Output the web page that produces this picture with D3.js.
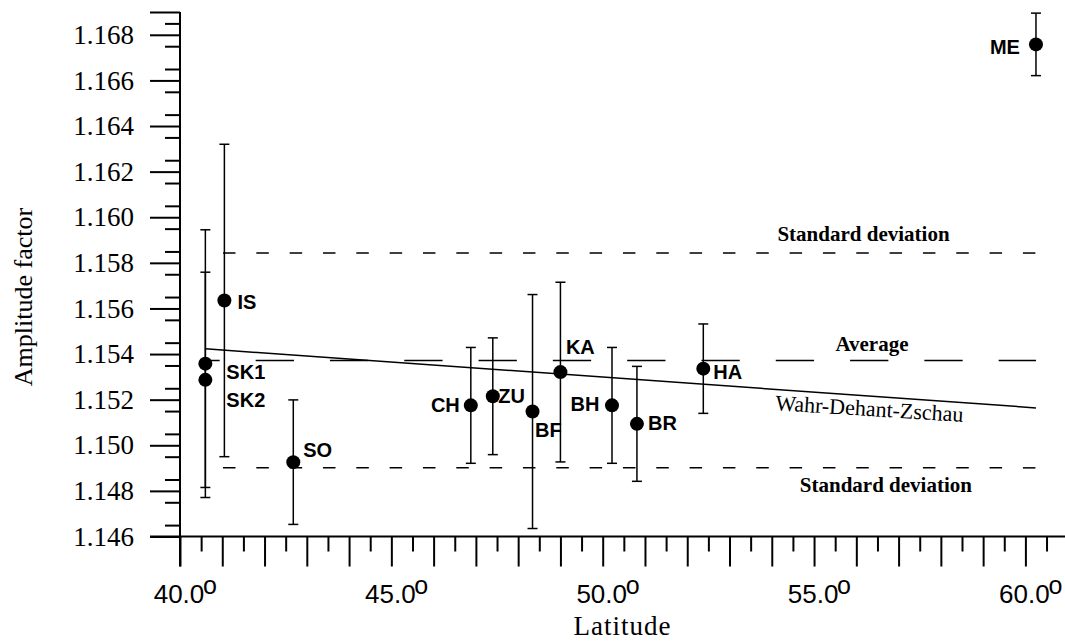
<!DOCTYPE html>
<html>
<head>
<meta charset="utf-8">
<script src="https://cdn.jsdelivr.net/npm/d3@7"></script>
<style>
	body { margin: 0; background: #fff; }
	svg { display: block; }
</style>
</head>
<body>
<div id="chart"></div>
<script>
// Stations (latitude in degrees, amplitude factor and its error)
const stations = ["SK1", "SK2", "IS", "SO", "CH", "ZU", "BF", "KA", "BH", "BR", "HA", "ME"];
const latitudes = [40.6, 40.6, 41.05, 42.68, 46.88, 47.40, 48.34, 49.0, 50.22, 50.81, 52.38, 60.25];
const amplitudes = [1.15358, 1.15287, 1.15635, 1.14926, 1.15175, 1.15215, 1.15148, 1.15321, 1.15175, 1.15094, 1.15336, 1.16758];
const errors = [0.00587, 0.00472, 0.00685, 0.00273, 0.00254, 0.00256, 0.00513, 0.00394, 0.00254, 0.00252, 0.00196, 0.00137];

// Wahr-Dehant-Zschau model
const wdzLat = [40.6, 60.25];
const wdzAmp = [1.15423, 1.15164];

// average and standard deviation
const refLat = [40.6, 60.25];
const averageAmp = 1.15372;
const stdDev = 0.00471;

// axes
const yTicks = [1.146, 1.148, 1.150, 1.152, 1.154, 1.156, 1.158, 1.160, 1.162, 1.164, 1.166, 1.168];
const xLabelTicks = [40, 45, 50, 55, 60];
const xTickLabels = ["40.0", "45.0", "50.0", "55.0", "60.0"];

const W = 1065, H = 641;
const serif = "'Liberation Serif', 'Times New Roman', serif";
const sans = "'Liberation Sans', Arial, sans-serif";

const svg = d3.select("#chart")
	.append("svg")
	.attr("width", W)
	.attr("height", H);

const x = d3.scaleLinear().domain([40, 60]).range([180, 1025.4]);
const y = d3.scaleLinear().domain([1.146, 1.168]).range([536.5, 34.8]);

const xEnd = W;           // x axis runs to the right edge
const yTop = y(1.169);    // y axis runs a bit above the last label

// Y axis: major ticks with labels
const yMajor = svg.append("g")
	.attr("transform", `translate(${x(40)},0)`)
	.call(d3.axisLeft(y).tickValues(yTicks).tickSize(30).tickPadding(16)
		.tickFormat(d3.format(".3f")));
yMajor.select(".domain").remove();
yMajor.selectAll("line").attr("stroke", "#000").attr("stroke-width", 2);
yMajor.selectAll("text")
	.style("font-family", serif)
	.style("font-size", "27px")
	.attr("fill", "#000");

// end tick at the top
const yTopTick = svg.append("g")
	.attr("transform", `translate(${x(40)},0)`)
	.call(d3.axisLeft(y).tickValues([1.169]).tickSize(30).tickFormat(""));
yTopTick.select(".domain").remove();
yTopTick.selectAll("line").attr("stroke", "#000").attr("stroke-width", 2);

// minor ticks
const yMinorVals = d3.range(1.1465, 1.169, 0.001);
const yMinor = svg.append("g")
	.attr("transform", `translate(${x(40)},0)`)
	.call(d3.axisLeft(y).tickValues(yMinorVals).tickSize(15).tickFormat(""));
yMinor.select(".domain").remove();
yMinor.selectAll("line").attr("stroke", "#000").attr("stroke-width", 2);

// X axis: major every degree, minor every half degree
const xMajor = svg.append("g")
	.attr("transform", `translate(0,${y(1.146)})`)
	.call(d3.axisBottom(x).tickValues(d3.range(40, 61, 1)).tickSize(30).tickFormat(""));
xMajor.select(".domain").remove();
xMajor.selectAll("line").attr("stroke", "#000").attr("stroke-width", 2);

const xMinor = svg.append("g")
	.attr("transform", `translate(0,${y(1.146)})`)
	.call(d3.axisBottom(x).tickValues(d3.range(40.5, 61, 1)).tickSize(15).tickFormat(""));
xMinor.select(".domain").remove();
xMinor.selectAll("line").attr("stroke", "#000").attr("stroke-width", 2);

// axis lines
svg.append("line")
	.attr("x1", x(40)).attr("x2", x(40))
	.attr("y1", yTop).attr("y2", y(1.146) + 30)
	.attr("stroke", "#000").attr("stroke-width", 2);
svg.append("line")
	.attr("x1", x(40) - 30).attr("x2", xEnd)
	.attr("y1", y(1.146)).attr("y2", y(1.146))
	.attr("stroke", "#000").attr("stroke-width", 2);

// X tick labels with degree mark
xLabelTicks.forEach((t, i) => {
	svg.append("text")
		.attr("x", x(t) - 1)
		.attr("y", 603)
		.attr("text-anchor", "middle")
		.style("font-family", sans)
		.style("font-size", "26px")
		.text(xTickLabels[i]);
	svg.append("text")
		.attr("x", x(t) + 23)
		.attr("y", 594)
		.style("font-family", sans)
		.style("font-size", "25px")
		.text("o");
});

// axis titles
svg.append("text")
	.attr("x", (x(40) + xEnd) / 2)
	.attr("y", 635)
	.attr("text-anchor", "middle")
	.style("font-family", serif)
	.style("font-size", "27px")
	.style("letter-spacing", "1px")
	.text("Latitude");

svg.append("text")
	.attr("transform", `translate(32,${y(1.1565)}) rotate(-90)`)
	.attr("text-anchor", "middle")
	.style("font-family", serif)
	.style("font-size", "26px")
	.text("Amplitude factor");

// standard deviation lines
[averageAmp + stdDev, averageAmp - stdDev].forEach(v => {
	svg.append("line")
		.attr("x1", x(refLat[0])).attr("x2", x(refLat[1]))
		.attr("y1", y(v)).attr("y2", y(v))
		.attr("stroke", "#000").attr("stroke-width", 1.5)
		.attr("stroke-dasharray", "12.5,20.83")
		.attr("stroke-dashoffset", 15.7);
});

// average line
svg.append("line")
	.attr("x1", x(refLat[0])).attr("x2", x(refLat[1]))
	.attr("y1", y(averageAmp)).attr("y2", y(averageAmp))
	.attr("stroke", "#000").attr("stroke-width", 1.5)
	.attr("stroke-dasharray", "38.3,36")
	.attr("stroke-dashoffset", 24);

// Wahr-Dehant-Zschau line
const wdz = wdzLat.map((d, i) => [d, wdzAmp[i]]);
svg.append("path")
	.datum(wdz)
	.attr("fill", "none")
	.attr("stroke", "#000")
	.attr("stroke-width", 1.5)
	.attr("d", d3.line().x(d => x(d[0])).y(d => y(d[1])));

// reference line labels
const refText = (label, lat, py) => svg.append("text")
	.attr("x", x(lat))
	.attr("y", py)
	.attr("text-anchor", "middle")
	.style("font-family", serif)
	.style("font-size", "21px")
	.style("font-weight", "bold")
	.text(label);

refText("Standard deviation", 56.17, y(averageAmp + stdDev) - 12.5);
refText("Average", 56.37, y(averageAmp) - 9);
refText("Standard deviation", 56.70, y(averageAmp - stdDev) + 24.5);

const wdzAngle = Math.atan2(y(wdzAmp[1]) - y(wdzAmp[0]), x(wdzLat[1]) - x(wdzLat[0])) * 180 / Math.PI;
const labLat = 56.3;
const labY = y(wdzAmp[0] + (wdzAmp[1] - wdzAmp[0]) * (labLat - wdzLat[0]) / (wdzLat[1] - wdzLat[0]));
svg.append("text")
	.attr("transform", `translate(${x(labLat)},${labY + 20}) rotate(${wdzAngle - 0.5})`)
	.attr("text-anchor", "middle")
	.style("font-family", serif)
	.style("font-size", "22px")
	.text("Wahr-Dehant-Zschau");

// stations
const data = stations.map((s, i) => ({
	name: s, lat: latitudes[i], amp: amplitudes[i], err: errors[i]
}));

const bars = svg.append("g")
	.selectAll("g")
	.data(data)
	.join("g");

bars.append("line")
	.attr("x1", d => x(d.lat)).attr("x2", d => x(d.lat))
	.attr("y1", d => y(d.amp + d.err)).attr("y2", d => y(d.amp - d.err))
	.attr("stroke", "#000").attr("stroke-width", 1.5);

bars.selectAll(".cap")
	.data(d => [d.amp + d.err, d.amp - d.err].map(v => ({ lat: d.lat, v })))
	.join("line")
	.attr("class", "cap")
	.attr("x1", d => x(d.lat) - 5).attr("x2", d => x(d.lat) + 5)
	.attr("y1", d => y(d.v)).attr("y2", d => y(d.v))
	.attr("stroke", "#000").attr("stroke-width", 1.5);

bars.append("circle")
	.attr("cx", d => x(d.lat))
	.attr("cy", d => y(d.amp))
	.attr("r", 7)
	.attr("fill", "#000");

// label offsets from the marker (dx, dy, anchor)
const labelPos = {
	SK1: [21, 15, "start"], SK2: [21, 27.5, "start"], IS: [13, 8.5, "start"],
	SO: [10, -5, "start"], CH: [-11, 6.5, "end"], ZU: [5.5, 6.5, "start"],
	BF: [2.5, 25, "start"], KA: [5.5, -18.5, "start"], BH: [-12.5, 6, "end"],
	BR: [11, 6.5, "start"], HA: [10, 10, "start"], ME: [-16, 9.5, "end"]
};

bars.append("text")
	.attr("x", d => x(d.lat) + labelPos[d.name][0])
	.attr("y", d => y(d.amp) + labelPos[d.name][1])
	.attr("text-anchor", d => labelPos[d.name][2])
	.style("font-family", sans)
	.style("font-size", "20px")
	.style("font-weight", "bold")
	.text(d => d.name);
</script>
</body>
</html>
